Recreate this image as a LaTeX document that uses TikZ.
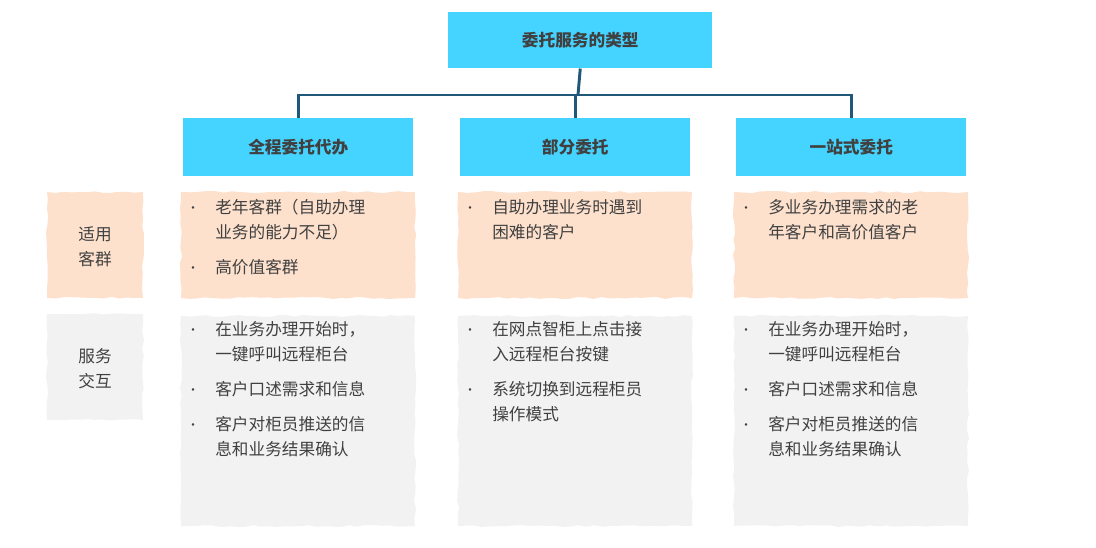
\documentclass[tikz,border=0pt]{standalone}
\usepackage{fontspec}
\setmainfont{Noto Sans CJK SC}
\usetikzlibrary{decorations.pathmorphing}
\definecolor{cy}{HTML}{45D3FF}
\definecolor{ln}{HTML}{1F5878}
\definecolor{pe}{HTML}{FDE1CD}
\definecolor{gr}{HTML}{F2F2F2}
\definecolor{tx}{HTML}{404040}
\tikzset{
 hdr/.style={fill=cy,draw=none,text=tx,font=\fontsize{12.5}{15}\selectfont\bfseries,anchor=north west,inner sep=0pt,align=center},
 pebox/.style={fill=pe,decorate,decoration={random steps,segment length=6pt,amplitude=0.8pt}},
 grbox/.style={fill=gr,decorate,decoration={random steps,segment length=6pt,amplitude=0.8pt}},
 lbl/.style={text=tx,font=\fontsize{12.5}{19}\selectfont,align=center},
 body/.style={text=tx,font=\fontsize{12.5}{19}\selectfont,anchor=north west,align=left,inner sep=0pt},
 bul/.style={text=tx,font=\fontsize{9}{10}\selectfont,inner sep=0pt},
 conn/.style={draw=ln,line width=2.2pt}
}
\begin{document}
\begin{tikzpicture}[x=0.75pt,y=-0.75pt]
\useasboundingbox (0,0) rectangle (1096,548);
\node[hdr,minimum width=198pt,minimum height=42pt] (top) at (448,12) {委托服务的类型};
\node[hdr,minimum width=172.5pt,minimum height=43pt] (c1) at (183,118) {全程委托代办};
\node[hdr,minimum width=172.5pt,minimum height=43pt] (c2) at (460,118) {部分委托};
\node[hdr,minimum width=172.5pt,minimum height=43pt] (c3) at (736,118) {一站式委托};
\coordinate (j) at (578,95);
\draw[conn] (top.south) -- (j);
\draw[conn] (c1.north) |- (j) -| (c3.north);
\draw[conn] (c2.north) -- (c2.north |- j);
% row boxes
\fill[pebox] (47,192) rectangle (143,298);
\fill[grbox] (47,314) rectangle (143,420);
\node[lbl] (r1) at (95,247) {适用\\客群};
\node[lbl] (r2) at (95,369) {服务\\交互};
\foreach \x in {181,458,734}{
 \fill[pebox] (\x,192) rectangle (\x+234,298);
 \fill[grbox] (\x,316) rectangle (\x+234,526);
}
% column 1
\node[bul] (b1) at (193,210) {•};
\node[body] (t1) at (215,199) {老年客群（自助办理\\业务的能力不足）};
\node[bul] (b2) at (193,270) {•};
\node[body] (t2) at (215,259) {高价值客群};
\node[bul] (b3) at (193,332) {•};
\node[body] (t3) at (215,321) {在业务办理开始时，\\一键呼叫远程柜台};
\node[bul] (b4) at (193,392) {•};
\node[body] (t4) at (215,381) {客户口述需求和信息};
\node[bul] (b5) at (193,427) {•};
\node[body] (t5) at (215,416) {客户对柜员推送的信\\息和业务结果确认};
% column 2
\node[bul] (b6) at (470,210) {•};
\node[body] (t6) at (492,199) {自助办理业务时遇到\\困难的客户};
\node[bul] (b7) at (470,332) {•};
\node[body] (t7) at (492,321) {在网点智柜上点击接\\入远程柜台按键};
\node[bul] (b8) at (470,392) {•};
\node[body] (t8) at (492,381) {系统切换到远程柜员\\操作模式};
% column 3
\node[bul] (b9) at (746,210) {•};
\node[body] (t9) at (768,199) {多业务办理需求的老\\年客户和高价值客户};
\node[bul] (b10) at (746,332) {•};
\node[body] (t10) at (768,321) {在业务办理开始时，\\一键呼叫远程柜台};
\node[bul] (b11) at (746,392) {•};
\node[body] (t11) at (768,381) {客户口述需求和信息};
\node[bul] (b12) at (746,427) {•};
\node[body] (t12) at (768,416) {客户对柜员推送的信\\息和业务结果确认};
\end{tikzpicture}
\end{document}
